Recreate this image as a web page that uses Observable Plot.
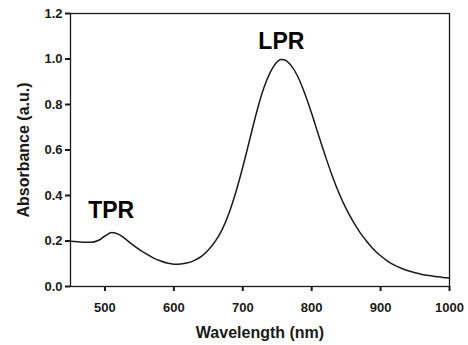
<!DOCTYPE html>
<html>
<head>
<meta charset="utf-8">
<script src="https://cdn.jsdelivr.net/npm/d3@7"></script>
<script src="https://cdn.jsdelivr.net/npm/@observablehq/plot@0.6"></script>
<style>
  html, body { margin: 0; padding: 0; background: #fff; }
</style>
</head>
<body>
<div id="chart"></div>
<script>
const wavelength = [450,460,470,480,490,500,510,520,530,540,550,560,570,580,590,600,610,620,630,640,650,660,670,680,690,700,710,720,730,740,750,755,760,770,780,790,800,810,820,830,840,850,860,870,880,890,900,910,920,930,940,950,960,970,980,990,1000];
const absorbance = [0.199,0.197,0.194,0.194,0.202,0.222,0.237,0.229,0.208,0.184,0.162,0.143,0.126,0.113,0.103,0.098,0.099,0.104,0.115,0.132,0.160,0.198,0.250,0.322,0.415,0.525,0.645,0.765,0.868,0.942,0.988,0.998,0.997,0.972,0.922,0.848,0.760,0.665,0.572,0.485,0.408,0.342,0.286,0.238,0.198,0.163,0.135,0.112,0.094,0.080,0.069,0.060,0.053,0.048,0.044,0.040,0.037];
const xTicks = [500,600,700,800,900,1000];
const yTicks = [0,0.2,0.4,0.6,0.8,1.0,1.2];
const peakLabels = ["TPR","LPR"];
const peakX = [509,756];
const peakY = [0.302,1.045];

const spectrum = wavelength.map((w,i)=>({w, a: absorbance[i]}));
const labels = peakLabels.map((t,i)=>({t, x: peakX[i], y: peakY[i]}));
const font = "Liberation Sans, Arial, sans-serif";
const ink = "#1a1a1a";

const chart = Plot.plot({
  width: 468,
  height: 345,
  marginLeft: 70,
  marginRight: 19,
  marginTop: 13,
  marginBottom: 59,
  style: {fontFamily: font, fontSize: "13px", fontWeight: "bold", color: ink, background: "#fff"},
  x: {domain: [450,1000]},
  y: {domain: [0,1.2]},
  marks: [
    Plot.frame({stroke: ink, strokeWidth: 1.3}),
    Plot.axisX({ticks: xTicks, tickSize: 5, tickPadding: 11, strokeWidth: 2, stroke: ink,
      tickFormat: d => String(d),
      label: "Wavelength (nm)", labelAnchor: "center", labelArrow: "none", labelOffset: 51,
      fontSize: 13, fontWeight: "bold", fill: ink}),
    Plot.axisY({ticks: yTicks, tickSize: 5, tickPadding: 3, strokeWidth: 2, stroke: ink,
      tickFormat: d3.format(".1f"),
      label: "Absorbance (a.u.)", labelAnchor: "center", labelArrow: "none", labelOffset: 53,
      fontSize: 13, fontWeight: "bold", fill: ink}),
    Plot.line(spectrum, {x: "w", y: "a", curve: "monotone-x", stroke: ink, strokeWidth: 1.5}),
    Plot.text(labels, {x: "x", y: "y", text: "t", lineAnchor: "bottom", textAnchor: "middle",
      fontSize: 23, fontWeight: "bold", fill: "#000", fontFamily: font})
  ]
});
document.getElementById("chart").append(chart);
chart.querySelectorAll("g[aria-label='x-axis label'] text, g[aria-label='y-axis label'] text").forEach(t => t.setAttribute("font-size", "16"));
</script>
</body>
</html>
